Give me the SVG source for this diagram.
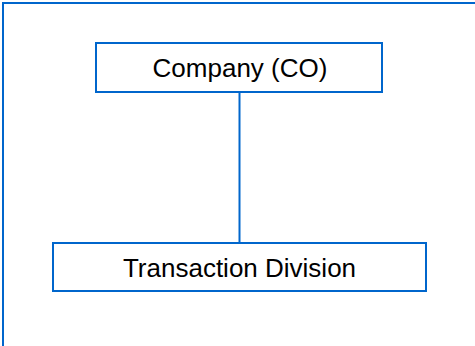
<svg xmlns="http://www.w3.org/2000/svg" width="475" height="346" viewBox="0 0 475 346">
  <style>
    .box { fill: #ffffff; stroke: #0066cc; stroke-width: 2; }
    .link { stroke: #0066cc; stroke-width: 2; fill: none; }
    .label { font-family: "Liberation Sans", Arial, sans-serif; font-size: 26px; fill: #000000; text-anchor: middle; }
  </style>
  <rect width="475" height="346" fill="#ffffff"/>
  <!-- outer frame -->
  <path d="M 3 346 V 3 H 475" fill="none" stroke="#0066cc" stroke-width="2"/>
  <g id="connectors">
    <line class="link" x1="239.5" y1="92" x2="239.5" y2="243"/>
  </g>
  <g id="node-company">
    <rect class="box" x="96" y="43" width="286" height="49"/>
    <text class="label" x="240" y="77">Company (CO)</text>
  </g>
  <g id="node-transaction">
    <rect class="box" x="53" y="243" width="373" height="48"/>
    <text class="label" x="239.5" y="277">Transaction Division</text>
  </g>
</svg>
